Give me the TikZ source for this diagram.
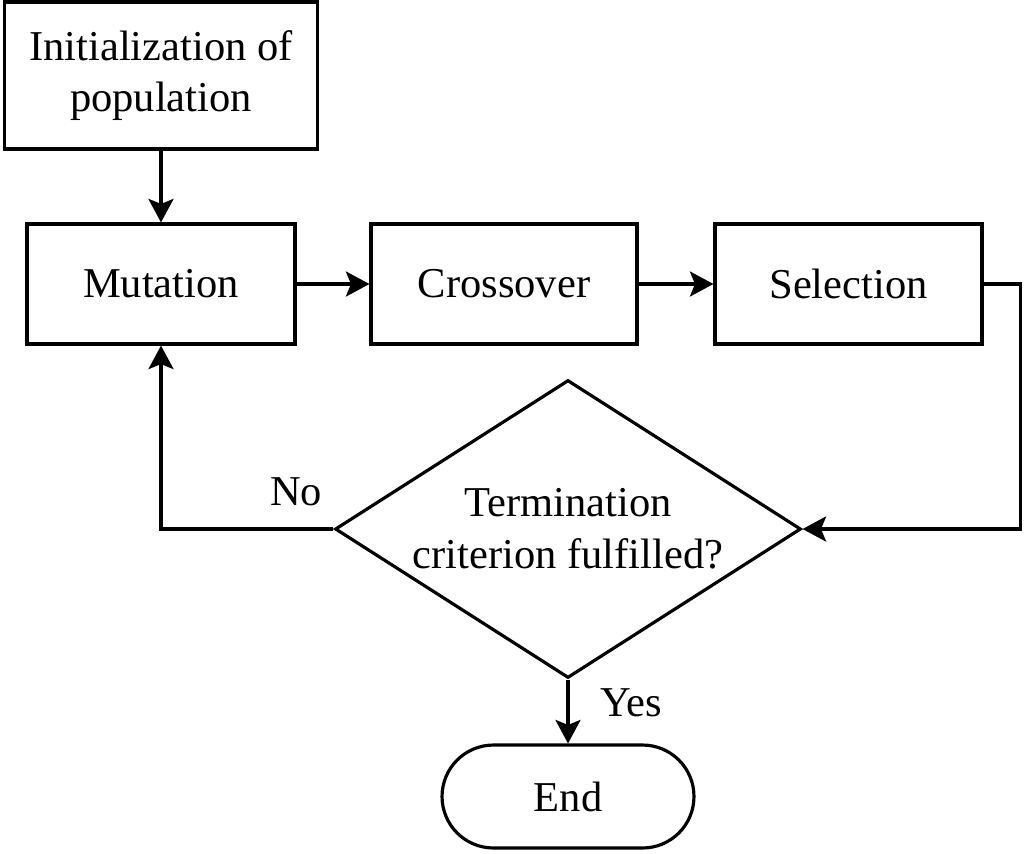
\documentclass[tikz,border=0pt]{standalone}
\usepackage{fontspec}
\setmainfont{Liberation Serif}
\usetikzlibrary{shapes.geometric,arrows.meta}
\begin{document}
\begin{tikzpicture}[x=0.02cm,y=-0.02cm,
  every node/.style={font=\fontsize{24.2}{29.5}\selectfont, align=center},
  box/.style={draw, line width=1.8pt, inner sep=0pt},
  conn/.style={line width=1.8pt, -{Stealth[length=0.47cm,width=0.5cm,inset=0.1cm]}},
  lbl/.style={inner sep=0pt}]
\useasboundingbox (0,0) rectangle (1030,853);
\node[box, minimum width=6.26cm, minimum height=2.94cm] (init) at (161,75.5) {Initialization of\\population};
\node[box, minimum width=5.36cm, minimum height=2.4cm] (mut) at (161,284) {Mutation};
\node[box, minimum width=5.32cm, minimum height=2.4cm] (cross) at (504,284) {Crossover};
\node[box, minimum width=5.34cm, minimum height=2.4cm] (sel) at (848.5,284) {Selection};
\node[diamond, draw, line width=1.8pt, inner sep=0pt, minimum width=9.32cm, minimum height=5.96cm] (dec) at (568,529) {};
\node[lbl] (dectext) at (568,529) {Termination\\criterion fulfilled?};
\node[box, rounded corners=1.03cm, minimum width=5.04cm, minimum height=2.06cm] (end) at (568,796.5) {End};
\coordinate (c1) at (1020.5,284);
\draw[conn] (init) -- (mut);
\draw[conn] (mut) -- (cross);
\draw[conn] (cross) -- (sel);
\draw[conn] (sel.east) -- (c1) |- (dec.east);
\draw[conn] (dec.west) -| (mut.south);
\draw[conn] (dec.south) -- (end.north);
\node[lbl] (no) at (296,492) {No};
\node[lbl] (yes) at (631,703) {Yes};
\end{tikzpicture}
\end{document}
